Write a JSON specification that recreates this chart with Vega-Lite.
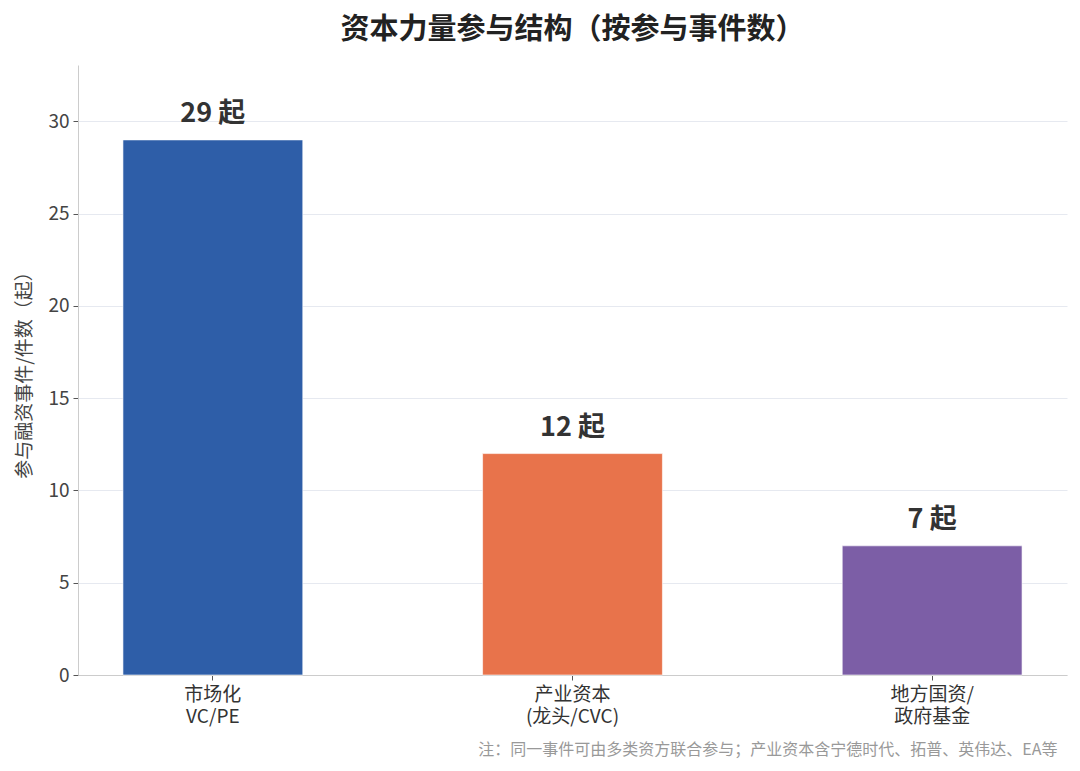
{
  "$schema": "https://vega.github.io/schema/vega-lite/v6.json",
  "width": 989,
  "height": 610,
  "autosize": {"type": "none"},
  "padding": {"left": 78, "top": 65, "right": 13, "bottom": 96},
  "background": "white",
  "title": {
    "text": "资本力量参与结构（按参与事件数）",
    "font": "Noto Sans CJK SC",
    "fontSize": 29,
    "fontWeight": "bold",
    "color": "#222222",
    "anchor": "middle",
    "offset": 20
  },
  "data": {
    "values": [
      {"cat": "市场化|VC/PE", "count": 29, "label": "29 起"},
      {"cat": "产业资本|(龙头/CVC)", "count": 12, "label": "12 起"},
      {"cat": "地方国资/|政府基金", "count": 7, "label": "7 起"}
    ]
  },
  "encoding": {
    "x": {
      "field": "cat",
      "type": "nominal",
      "sort": null,
      "scale": {"paddingInner": 0.5, "paddingOuter": 0.125},
      "axis": {
        "title": "注：同一事件可由多类资方联合参与；产业资本含宁德时代、拓普、英伟达、EA等",
        "titleFont": "Noto Sans CJK SC",
        "titleFontSize": 16,
        "titleFontWeight": "normal",
        "titleColor": "#999999",
        "titleAnchor": "end",
        "titleAlign": "right",
        "titleX": 979,
        "titleY": 66,
        "labelAngle": 0,
        "labelExpr": "split(datum.label, '|')",
        "labelFont": "Noto Sans CJK SC",
        "labelFontSize": 19,
        "labelColor": "#333333",
        "labelLineHeight": 22,
        "labelPadding": 5,
        "tickSize": 5,
        "tickColor": "#555555",
        "domainColor": "#cccccc"
      }
    },
    "y": {
      "field": "count",
      "type": "quantitative",
      "scale": {"domain": [0, 33.06], "nice": false},
      "axis": {
        "title": "参与融资事件/件数（起）",
        "titleFont": "Noto Sans CJK SC",
        "titleFontSize": 19,
        "titleFontWeight": "normal",
        "titleColor": "#444444",
        "titlePadding": 13,
        "values": [0, 5, 10, 15, 20, 25, 30],
        "labelFont": "Noto Sans CJK SC",
        "labelFontSize": 19,
        "labelColor": "#444444",
        "labelPadding": 4,
        "tickSize": 5,
        "tickColor": "#555555",
        "domainColor": "#cccccc",
        "grid": true,
        "gridColor": "#e6e9f0",
        "gridWidth": 1
      }
    }
  },
  "layer": [
    {
      "mark": {"type": "bar", "stroke": "#ffffff", "strokeWidth": 1, "strokeOpacity": 0.6},
      "encoding": {
        "color": {
          "field": "cat",
          "type": "nominal",
          "sort": null,
          "scale": {"range": ["#2e5ea8", "#e8734b", "#7c5ea6"]},
          "legend": null
        }
      }
    },
    {
      "mark": {
        "type": "text",
        "baseline": "bottom",
        "dy": -12,
        "font": "Noto Sans CJK SC",
        "fontSize": 27,
        "fontWeight": "bold",
        "color": "#333333"
      },
      "encoding": {"text": {"field": "label"}}
    }
  ],
  "config": {
    "view": {"stroke": null}
  }
}
